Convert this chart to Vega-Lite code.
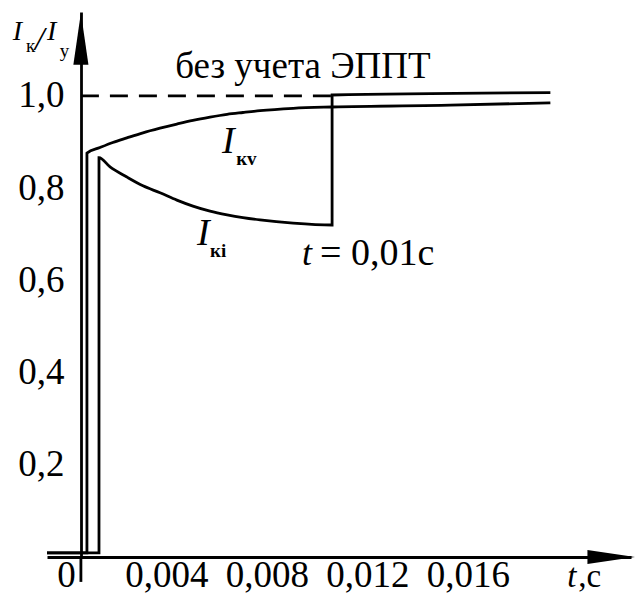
{
  "$schema": "https://vega.github.io/schema/vega-lite/v6.json",
  "width": 584,
  "height": 545,
  "autosize": {"type": "none"},
  "padding": {"left": 47, "top": 12, "right": 4, "bottom": 37},
  "background": "white",
  "config": {"view": {"stroke": null}},
  "datasets": {
    "curves": [
      {"s": "ref", "i": 0, "t": 0, "v": 1.0},
      {"s": "ref", "i": 1, "t": 0.01, "v": 1.0},
      {"s": "kv", "i": 0, "t": -0.00135, "v": 0.009},
      {"s": "kv", "i": 1, "t": 0.00024, "v": 0.009},
      {"s": "kv", "i": 2, "t": 0.00024, "v": 0.876},
      {"s": "kv", "i": 3, "t": 0.00076, "v": 0.888},
      {"s": "kv", "i": 4, "t": 0.00127, "v": 0.899},
      {"s": "kv", "i": 5, "t": 0.00183, "v": 0.909},
      {"s": "kv", "i": 6, "t": 0.00247, "v": 0.92},
      {"s": "kv", "i": 7, "t": 0.00315, "v": 0.93},
      {"s": "kv", "i": 8, "t": 0.00382, "v": 0.939},
      {"s": "kv", "i": 9, "t": 0.00446, "v": 0.947},
      {"s": "kv", "i": 10, "t": 0.00514, "v": 0.954},
      {"s": "kv", "i": 11, "t": 0.00582, "v": 0.96},
      {"s": "kv", "i": 12, "t": 0.00645, "v": 0.964},
      {"s": "kv", "i": 13, "t": 0.00713, "v": 0.968},
      {"s": "kv", "i": 14, "t": 0.00845, "v": 0.973},
      {"s": "kv", "i": 15, "t": 0.01, "v": 0.976},
      {"s": "kv", "i": 16, "t": 0.0147, "v": 0.98},
      {"s": "kv", "i": 17, "t": 0.01869, "v": 0.985},
      {"s": "ki", "i": 0, "t": -0.00135, "v": 0.009},
      {"s": "ki", "i": 1, "t": 0.00072, "v": 0.009},
      {"s": "ki", "i": 2, "t": 0.00072, "v": 0.866},
      {"s": "ki", "i": 3, "t": 0.00116, "v": 0.846},
      {"s": "ki", "i": 4, "t": 0.00183, "v": 0.824},
      {"s": "ki", "i": 5, "t": 0.00247, "v": 0.805},
      {"s": "ki", "i": 6, "t": 0.00315, "v": 0.79},
      {"s": "ki", "i": 7, "t": 0.00382, "v": 0.774},
      {"s": "ki", "i": 8, "t": 0.00446, "v": 0.761},
      {"s": "ki", "i": 9, "t": 0.00514, "v": 0.75},
      {"s": "ki", "i": 10, "t": 0.00582, "v": 0.742},
      {"s": "ki", "i": 11, "t": 0.00645, "v": 0.736},
      {"s": "ki", "i": 12, "t": 0.00713, "v": 0.731},
      {"s": "ki", "i": 13, "t": 0.00845, "v": 0.724},
      {"s": "ki", "i": 14, "t": 0.01, "v": 0.72},
      {"s": "ki", "i": 15, "t": 0.01, "v": 1.002},
      {"s": "ki", "i": 16, "t": 0.01869, "v": 1.007}
    ],
    "arrows": [
      {"dir": "up", "t": 0, "v": 1.124},
      {"dir": "right", "t": 0.02112, "v": 0}
    ],
    "ext": [
      {"t": 0, "v": 0, "v2": -0.054}
    ],
    "labels": [
      {"role": "note", "t": 0.00884, "v": 1.039, "txt": "без учета ЭППТ"},
      {"role": "big", "t": 0.00562, "v": 0.876, "txt": "I"},
      {"role": "sub", "t": 0.00618, "v": 0.85, "txt": "кv"},
      {"role": "big", "t": 0.00462, "v": 0.677, "txt": "I"},
      {"role": "sub", "t": 0.00514, "v": 0.651, "txt": "кi"},
      {"role": "ital", "t": 0.0088, "v": 0.633, "txt": "t"},
      {"role": "plain", "t": 0.00952, "v": 0.633, "txt": "= 0,01c"},
      {"role": "ital2", "t": 0.01936, "v": -0.065, "txt": "t"},
      {"role": "plain2", "t": 0.0198, "v": -0.065, "txt": ",c"},
      {"role": "ytitle", "t": -0.00271, "v": 1.121, "txt": "I"},
      {"role": "ysub", "t": -0.00219, "v": 1.095, "txt": "к"},
      {"role": "slash", "t": -0.00183, "v": 1.1, "txt": "/"},
      {"role": "ytitle", "t": -0.00135, "v": 1.121, "txt": "I"},
      {"role": "ysub", "t": -0.00084, "v": 1.085, "txt": "у"}
    ]
  },
  "encoding": {
    "x": {
      "field": "t", "type": "quantitative",
      "scale": {"domain": [-0.00135, 0.0219], "nice": false, "zero": false},
      "axis": {
        "values": [0, 0.004, 0.008, 0.012, 0.016],
        "labelExpr": "datum.value == 0 ? '0' : replace(format(datum.value, '.3f'), '.', ',')",
        "title": null, "grid": false, "ticks": false,
        "domainColor": "black", "domainWidth": 2.8,
        "labelFont": "Liberation Serif", "labelFontSize": 37, "labelColor": "black",
        "labelOffset": -15, "labelPadding": 0, "labelFlush": false, "labelOverlap": false
      }
    },
    "y": {
      "field": "v", "type": "quantitative",
      "scale": {"domain": [0, 1.182], "nice": false, "zero": false},
      "axis": {
        "values": [0.2, 0.4, 0.6, 0.8, 1.0],
        "labelExpr": "replace(format(datum.value, '.1f'), '.', ',')",
        "offset": -34,
        "title": null, "grid": false, "ticks": false,
        "domainColor": "black", "domainWidth": 2.8,
        "labelFont": "Liberation Serif", "labelFontSize": 37, "labelColor": "black",
        "labelPadding": 17, "labelFlush": false, "labelOverlap": false
      }
    }
  },
  "layer": [
    {
      "data": {"name": "curves"},
      "transform": [{"filter": "datum.s == 'ref'"}],
      "mark": {"type": "line", "color": "black", "strokeWidth": 2.8, "strokeDash": [18, 11]},
      "encoding": {"order": {"field": "i"}}
    },
    {
      "data": {"name": "curves"},
      "transform": [{"filter": "datum.s != 'ref'"}],
      "mark": {"type": "line", "color": "black", "strokeWidth": 2.8, "interpolate": "monotone", "strokeJoin": "miter"},
      "encoding": {"order": {"field": "i"}, "detail": {"field": "s"}}
    },
    {
      "data": {"name": "ext"},
      "mark": {"type": "rule", "color": "black", "strokeWidth": 2.8},
      "encoding": {"y2": {"field": "v2"}}
    },
    {
      "data": {"name": "arrows"},
      "transform": [{"filter": "datum.dir == 'up'"}],
      "mark": {"type": "point", "shape": "M-0.29,1L0,-1L0.29,1Z", "filled": true, "size": 2704, "color": "black", "opacity": 1}
    },
    {
      "data": {"name": "arrows"},
      "transform": [{"filter": "datum.dir == 'right'"}],
      "mark": {"type": "point", "shape": "M-1,-0.29L1,0L-1,0.29Z", "filled": true, "size": 2304, "color": "black", "opacity": 1}
    },
    {
      "data": {"name": "labels"},
      "transform": [{"filter": "datum.role == 'note'"}],
      "mark": {"type": "text", "font": "Liberation Serif", "fontSize": 37, "align": "center", "baseline": "alphabetic", "color": "black"},
      "encoding": {"text": {"field": "txt"}}
    },
    {
      "data": {"name": "labels"},
      "transform": [{"filter": "datum.role == 'big'"}],
      "mark": {"type": "text", "font": "Liberation Serif", "fontSize": 38, "fontStyle": "italic", "align": "left", "baseline": "alphabetic", "color": "black"},
      "encoding": {"text": {"field": "txt"}}
    },
    {
      "data": {"name": "labels"},
      "transform": [{"filter": "datum.role == 'sub'"}],
      "mark": {"type": "text", "font": "Liberation Serif", "fontSize": 19, "fontWeight": "bold", "align": "left", "baseline": "alphabetic", "color": "black"},
      "encoding": {"text": {"field": "txt"}}
    },
    {
      "data": {"name": "labels"},
      "transform": [{"filter": "datum.role == 'ital'"}],
      "mark": {"type": "text", "font": "Liberation Serif", "fontSize": 36, "fontStyle": "italic", "align": "left", "baseline": "alphabetic", "color": "black"},
      "encoding": {"text": {"field": "txt"}}
    },
    {
      "data": {"name": "labels"},
      "transform": [{"filter": "datum.role == 'plain'"}],
      "mark": {"type": "text", "font": "Liberation Serif", "fontSize": 38, "align": "left", "baseline": "alphabetic", "color": "black"},
      "encoding": {"text": {"field": "txt"}}
    },
    {
      "data": {"name": "labels"},
      "transform": [{"filter": "datum.role == 'ital2'"}],
      "mark": {"type": "text", "font": "Liberation Serif", "fontSize": 33, "fontStyle": "italic", "align": "left", "baseline": "alphabetic", "color": "black"},
      "encoding": {"text": {"field": "txt"}}
    },
    {
      "data": {"name": "labels"},
      "transform": [{"filter": "datum.role == 'plain2'"}],
      "mark": {"type": "text", "font": "Liberation Serif", "fontSize": 33, "align": "left", "baseline": "alphabetic", "color": "black"},
      "encoding": {"text": {"field": "txt"}}
    },
    {
      "data": {"name": "labels"},
      "transform": [{"filter": "datum.role == 'ytitle'"}],
      "mark": {"type": "text", "font": "Liberation Serif", "fontSize": 28, "fontStyle": "italic", "align": "left", "baseline": "alphabetic", "color": "black"},
      "encoding": {"text": {"field": "txt"}}
    },
    {
      "data": {"name": "labels"},
      "transform": [{"filter": "datum.role == 'ysub'"}],
      "mark": {"type": "text", "font": "Liberation Serif", "fontSize": 19, "align": "left", "baseline": "alphabetic", "color": "black"},
      "encoding": {"text": {"field": "txt"}}
    },
    {
      "data": {"name": "labels"},
      "transform": [{"filter": "datum.role == 'slash'"}],
      "mark": {"type": "text", "font": "Liberation Serif", "fontSize": 34, "fontStyle": "italic", "align": "left", "baseline": "alphabetic", "color": "black"},
      "encoding": {"text": {"field": "txt"}}
    }
  ]
}
